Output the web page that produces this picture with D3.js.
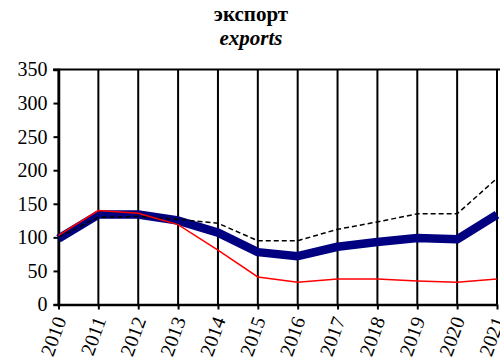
<!DOCTYPE html>
<html><head><meta charset="utf-8">
<script src="https://cdn.jsdelivr.net/npm/d3@7"></script>
<style>body{margin:0;background:#fff}svg{display:block}</style>
</head><body><svg id="c" width="500" height="361" font-family="Liberation Serif"></svg>
<script>
const years = [2010,2011,2012,2013,2014,2015,2016,2017,2018,2019,2020,2021];
const blueSeries = [98,134,134,125,107,78,72,86,93,99,97,134];
const dashedSeries = [100,130,131,127,121,95,95,112,123,135,135,188];
const redSeries = [103,140,136,119,81,41,33,38,38,35,33,38];
const yTicks = [0,50,100,150,200,250,300,350];
const titleLines = ["экспорт","exports"];

const FONT = "Liberation Serif";
const svg = d3.select("#c");
const x = d3.scalePoint().domain(years).range([58.5,497]);
const y = d3.scaleLinear().domain([0,350]).range([304.5,69.5]);

// titles
svg.append("text").attr("x",251).attr("y",21).attr("text-anchor","middle")
  .attr("font-family",FONT).attr("font-weight","bold").attr("font-size",21).text(titleLines[0]);
svg.append("text").attr("x",251).attr("y",45).attr("text-anchor","middle")
  .attr("font-family",FONT).attr("font-weight","bold").attr("font-style","italic").attr("font-size",21).text(titleLines[1]);

// vertical grid
svg.append("g").selectAll("line").data(years).join("line")
  .attr("x1",d=>x(d)).attr("x2",d=>x(d)).attr("y1",y(350)).attr("y2",y(0))
  .attr("stroke","#000").attr("stroke-width",2);
// top border
svg.append("line").attr("x1",53).attr("x2",500).attr("y1",y(350)).attr("y2",y(350))
  .attr("stroke","#000").attr("stroke-width",2);

// y axis
const ya = svg.append("g").attr("transform",`translate(${x(2010)},0)`)
  .call(d3.axisLeft(y).tickValues(yTicks).tickSize(5).tickPadding(6));
ya.attr("font-family",FONT).attr("font-size",20);
ya.select(".domain").attr("stroke","#000").attr("stroke-width",2.5);
ya.selectAll(".tick line").attr("stroke","#000").attr("stroke-width",2);
ya.selectAll("text").attr("font-family",FONT).attr("font-size",20).attr("fill","#000");

// x axis
const xa = svg.append("g").attr("transform",`translate(0,${y(0)})`)
  .call(d3.axisBottom(x).tickSize(5).tickSizeOuter(0));
xa.attr("font-family",FONT).attr("font-size",20);
xa.select(".domain").attr("stroke","#000").attr("stroke-width",2.5);
xa.selectAll(".tick line").attr("stroke","#000").attr("stroke-width",2);
xa.selectAll("text").attr("font-family",FONT).attr("font-size",20).attr("fill","#000")
  .attr("text-anchor","end").attr("dy","0.35em").attr("y",0)
  .attr("transform","translate(1,13) rotate(-70)");

const line = d3.line().x((d,i)=>x(years[i])).y(d=>y(d));
svg.append("path").datum(blueSeries).attr("d",line).attr("fill","none")
  .attr("stroke","#000080").attr("stroke-width",8.5).attr("stroke-linejoin","round");
svg.append("path").datum(dashedSeries).attr("d",line).attr("fill","none")
  .attr("stroke","#000").attr("stroke-width",1.5).attr("stroke-dasharray","5,3");
svg.append("path").datum(redSeries).attr("d",line).attr("fill","none")
  .attr("stroke","#ff0000").attr("stroke-width",1.5);
</script></body></html>
